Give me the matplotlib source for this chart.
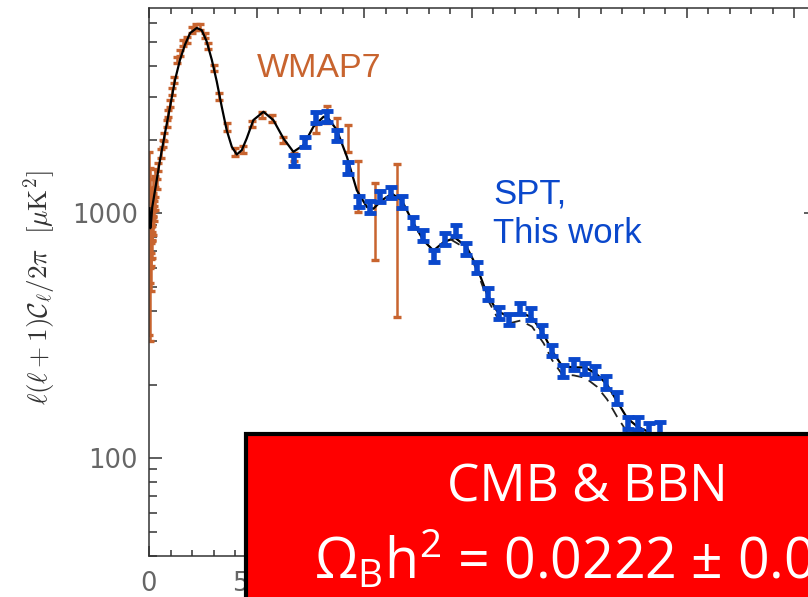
import matplotlib
matplotlib.use('Agg')
import matplotlib.pyplot as plt
from matplotlib.patches import Rectangle
from matplotlib.ticker import NullFormatter

plt.rcParams['mathtext.fontset'] = 'custom'
plt.rcParams['mathtext.rm'] = 'Open Sans'
plt.rcParams['mathtext.it'] = 'Open Sans:italic'
plt.rcParams['mathtext.bf'] = 'Open Sans:bold'

WMAP_COLOR = '#C8642F'
SPT_COLOR = '#0A48CC'

# WMAP7 band powers
wmap_ell = [2, 3, 4, 5, 6, 7, 8, 9, 10, 11, 12, 13, 14, 15, 16, 17, 18, 19, 20, 22, 24, 26, 28, 30,
            36, 43, 54, 64, 70, 82, 90, 98, 108, 118, 132, 144, 160, 175, 199, 219, 237, 260,
            276, 302, 327, 361, 400, 436, 478, 526, 571, 625, 675, 725, 775, 827, 873, 924,
            971, 1051, 1152]
wmap_dl = [1050, 650, 900, 1250, 700, 850, 620, 780, 1000, 720, 880, 1150, 750, 980, 860, 1300,
           1050, 900, 1100, 1200, 1000, 1450, 1100, 1350,
           1323, 1548, 1757, 1929, 2055, 2331, 2560, 2815, 3138, 3510, 4236, 4519, 4960, 5120,
           5627, 5770, 5770, 5320, 4830, 3920, 3015, 2260, 1784, 1825, 2317, 2530, 2443, 2000,
           1700, 1950, 2220, 2550, 2220, 2040, 1320, 990, 988]
wmap_err = [730, 350, 300, 280, 180, 160, 140, 130, 120, 110, 100, 100, 90, 90, 85, 85, 80, 80,
            75, 75, 70, 70, 70, 70,
            65, 65, 70, 70, 75, 80, 85, 90, 100, 110, 120, 130, 140, 140, 150, 150, 150, 140,
            130, 120, 100, 85, 70, 60, 60, 70, 70, 60, 70, 90, 100, 200, 230, 256, 311, 345, 610]

# SPT band powers (this work)
spt_ell = [675, 725, 775, 825, 875, 925, 975, 1025, 1075, 1125, 1175, 1225, 1275, 1325, 1375,
           1425, 1475, 1525, 1575, 1625, 1675, 1725, 1775, 1825, 1875, 1925, 1975, 2025, 2075,
           2125, 2175, 2225, 2275, 2325, 2375]
spt_dl = [1648, 1960, 2466, 2497, 2088, 1540, 1120, 1061, 1170, 1215, 1113, 921, 812, 673, 788,
          852, 717, 603, 471, 392, 370, 410, 388, 333, 276, 227, 242, 233, 226, 204, 176, 140,
          139, 131, 132]
spt_err = [90, 100, 130, 130, 110, 85, 60, 58, 62, 64, 60, 50, 44, 37, 42, 46, 39, 33, 26, 22,
           20, 22, 21, 18, 15, 13, 13, 13, 13, 12, 10, 8, 8, 8, 8]

# best-fit model (solid)
model_ell = [2, 6, 10, 15, 28, 51, 74, 98, 121, 144, 167, 191, 222, 245, 268, 292, 315, 338, 361,
             385, 408, 431, 454, 485, 532, 578, 625, 671, 718, 764, 811, 834, 873, 920, 966,
             1013, 1043, 1082, 1129, 1175, 1222, 1276, 1322, 1369, 1423, 1477, 1524, 1571, 1617,
             1671, 1726, 1780, 1834, 1873, 1920, 1974, 2028, 2082, 2129, 2175, 2222, 2268, 2315,
             2380, 2450, 2600, 2800, 3000]
model_dl = [1050, 870, 930, 1060, 1242, 1648, 2122, 2729, 3510, 4236, 4880, 5450, 5720, 5600,
            5040, 4236, 3455, 2729, 2190, 1869, 1740, 1812, 2023, 2405, 2600, 2405, 2023, 1784,
            1900, 2258, 2482, 2443, 2190, 1701, 1242, 1061, 1045, 1131, 1204, 1131, 936, 775,
            705, 763, 795, 728, 603, 469, 400, 379, 394, 376, 321, 275, 238, 235, 235, 220, 200,
            171, 146, 135, 129, 120, 105, 85, 60, 45]

# alternative model (dashed), only differs in the damping tail
alt_ell = [1400, 1477, 1524, 1571, 1617, 1671, 1726, 1780, 1834, 1873, 1920, 1974, 2028, 2082,
           2129, 2175, 2222, 2268, 2315, 2380, 2450, 2600, 2800, 3000]
alt_dl = [785, 715, 585, 450, 378, 355, 365, 345, 295, 252, 220, 218, 213, 196, 174, 148, 128,
          118, 110, 100, 88, 70, 50, 36]

fig = plt.figure(figsize=(8.08, 5.97), dpi=100)
ax = fig.add_axes([149 / 808, 41.3 / 597, 667 / 808, 547.7 / 597])

ax.plot(model_ell, model_dl, color='black', lw=1.6, zorder=3)
ax.plot(alt_ell, alt_dl, color='#222222', lw=1.3, ls=(0, (6, 4)), zorder=3)
ax.errorbar(wmap_ell, wmap_dl, yerr=wmap_err, fmt='none', ecolor=WMAP_COLOR, elinewidth=1.8,
            capsize=3.2, capthick=2.4, zorder=2)
ax.errorbar(spt_ell, spt_dl, yerr=spt_err, fmt='none', ecolor=SPT_COLOR, elinewidth=4,
            capsize=4.5, capthick=3.5, zorder=4)

ax.set_yscale('log')
ax.set_xlim(0, 3100)
ax.set_ylim(40, 6900)

# only the first two x labels are visible, the rest sit under the red box
ax.set_xticks([0, 500, 1000, 1500, 2000, 2500, 3000], ['0', '500', '', '', '', '', ''])
ax.set_xticks(range(0, 3101, 100), minor=True)
ax.set_yticks([100, 1000], ['100', '1000'])
ax.set_yticks([40, 50, 60, 70, 80, 90, 200, 300, 400, 500, 600, 700, 800, 900,
               2000, 3000, 4000, 5000, 6000], minor=True)
ax.yaxis.set_minor_formatter(NullFormatter())
ax.xaxis.set_minor_formatter(NullFormatter())

ax.tick_params(which='both', direction='in', top=True, right=True, color='#333333', width=1.1)
ax.tick_params(axis='y', which='major', length=9, labelsize=18.5, labelcolor='#666666', pad=8)
ax.tick_params(axis='y', which='minor', length=5.5)
ax.tick_params(axis='x', which='major', length=7.5, labelsize=18.5, labelcolor='#666666', pad=11)
ax.tick_params(axis='x', which='minor', length=4)
for s in ax.spines.values():
    s.set_color('#333333')
    s.set_linewidth(1.1)

fig.text(40 / 808, 1 - 288 / 597, r'$\ell(\ell+1)\mathcal{C}_\ell/2\pi\ \ [\mu\mathrm{K}^2]$',
         rotation=90, ha='center', va='center', fontsize=19.5, color='#333333',
         math_fontfamily='cm')

fig.text(257 / 808, 1 - 77 / 597, 'WMAP7', color=WMAP_COLOR, fontsize=24.5,
         family='Liberation Sans', ha='left', va='baseline')
fig.text(493 / 808, 1 - 203 / 597, 'SPT,', color=SPT_COLOR, fontsize=25,
         family='Liberation Sans', ha='left', va='baseline')
fig.text(493 / 808, 1 - 243 / 597, 'This work', color=SPT_COLOR, fontsize=25,
         family='Liberation Sans', ha='left', va='baseline')

# red summary box on top of the plot
box = Rectangle((246 / 808, -0.2), 1.0, 0.2 + 1 - 434 / 597, transform=fig.transFigure,
                facecolor='#FF0000', edgecolor='black', lw=3, zorder=10)
fig.add_artist(box)
fig.text(587 / 808, 1 - 502 / 597, 'CMB & BBN', color='white', fontsize=37,
         family=['Open Sans', 'DejaVu Sans'], ha='center', va='baseline', zorder=11)
fig.text(314 / 808, 1 - 579 / 597, r'$\Omega_\mathrm{B}\mathrm{h}^2$ = 0.0222 ± 0.0004',
         color='white', fontsize=40, family=['Open Sans', 'DejaVu Sans'],
         ha='left', va='baseline', zorder=11)

fig.savefig('out.png', dpi=100)
